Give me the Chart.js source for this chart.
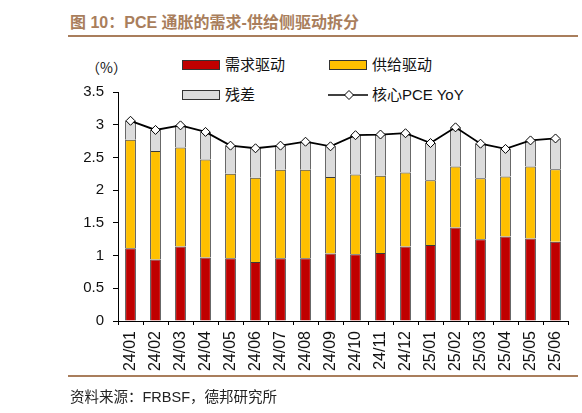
<!DOCTYPE html>
<html lang="zh-CN">
<head>
<meta charset="UTF-8">
<title>PCE 通胀的需求-供给侧驱动拆分</title>
<script src="https://cdn.jsdelivr.net/npm/chart.js"></script>
<style>
    body { margin: 0; background: #fff; font-family: 'Liberation Sans', 'Noto Sans CJK SC', sans-serif; }
    .page { position: relative; width: 582px; height: 413px; overflow: hidden; }
    #chart { position: absolute; left: 0; top: 0; }
    .title { position: absolute; left: 70px; top: 9px; font-size: 16px; font-weight: 700; color: #a97e5c; white-space: nowrap; }
    .rule { position: absolute; left: 68px; width: 510px; height: 2px; background: #a97e5c; }
    .source { position: absolute; left: 70px; top: 385px; font-size: 14.5px; color: #222; white-space: nowrap; }
    .unit { position: absolute; left: 86px; top: 57px; font-size: 14px; color: #111; font-family: 'Noto Sans CJK SC', sans-serif; }
    .lg { position: absolute; font-size: 15px; color: #111; white-space: nowrap; line-height: 18px; }
    .box { position: absolute; width: 36px; height: 8px; border: 1px solid #333; }
</style>
</head>
<body>
<div class="page">
    <div class="title">图 10：PCE 通胀的需求-供给侧驱动拆分</div>
    <div class="rule" style="top:35px"></div>
    <div class="unit">（%）</div>

    <div class="box" style="left:182px;top:60px;background:#c00000"></div>
    <div class="lg" style="left:225px;top:56px">需求驱动</div>
    <div class="box" style="left:329px;top:60px;background:#ffc000"></div>
    <div class="lg" style="left:372px;top:56px">供给驱动</div>
    <div class="box" style="left:182px;top:90px;background:#dcdcdc"></div>
    <div class="lg" style="left:225px;top:86px">残差</div>
    <svg style="position:absolute;left:328px;top:89px" width="40" height="12">
        <line x1="0" y1="6" x2="40" y2="6" stroke="#000" stroke-width="1.6"/>
        <polygon points="21,1.5 25.5,6 21,10.5 16.5,6" fill="#fff" stroke="#000" stroke-width="1"/>
    </svg>
    <div class="lg" style="left:372px;top:86px">核心PCE YoY</div>

    <canvas id="chart" width="582" height="413"></canvas>
    <div class="rule" style="top:375px"></div>
    <div class="source">资料来源：FRBSF，德邦研究所</div>
</div>
<script>
    const months = ['24/01','24/02','24/03','24/04','24/05','24/06','24/07','24/08','24/09',
                    '24/10','24/11','24/12','25/01','25/02','25/03','25/04','25/05','25/06'];
    const demand   = [1.11,0.94,1.14,0.97,0.96,0.90,0.96,0.96,1.03,1.02,1.04,1.14,1.16,1.43,1.25,1.29,1.26,1.21];
    const supply   = [1.66,1.66,1.51,1.50,1.29,1.29,1.35,1.35,1.17,1.22,1.18,1.13,0.99,0.93,0.93,0.92,1.10,1.11];
    const residual = [0.29,0.32,0.34,0.42,0.43,0.45,0.37,0.43,0.47,0.60,0.63,0.60,0.57,0.60,0.53,0.42,0.40,0.47];
    const corePce  = [3.06,2.92,2.99,2.89,2.68,2.64,2.68,2.74,2.67,2.84,2.85,2.87,2.72,2.96,2.71,2.63,2.76,2.79];
    const yTicks   = [0, 0.5, 1, 1.5, 2, 2.5, 3, 3.5];

    const barStyle = { borderColor: '#3a3a3a', borderWidth: 1, barPercentage: 0.43, categoryPercentage: 1, order: 1 };

    new Chart(document.getElementById('chart'), {
        type: 'bar',
        data: {
            labels: months,
            datasets: [
                Object.assign({ label: '需求驱动', data: demand, backgroundColor: '#c00000' }, barStyle),
                Object.assign({ label: '供给驱动', data: supply, backgroundColor: '#ffc000' }, barStyle),
                Object.assign({ label: '残差', data: residual, backgroundColor: '#dcdcdc' }, barStyle),
                {
                    type: 'line',
                    label: '核心PCE YoY',
                    data: corePce,
                    yAxisID: 'y2',
                    borderColor: '#000',
                    borderWidth: 1.8,
                    pointStyle: 'rectRot',
                    pointRadius: 4.5,
                    pointBackgroundColor: '#fff',
                    pointBorderColor: '#000',
                    pointBorderWidth: 1,
                    tension: 0,
                    order: 0
                }
            ]
        },
        options: {
            responsive: false,
            animation: false,
            layout: { padding: { top: 92, right: 14, left: 0, bottom: 0 } },
            plugins: { legend: { display: false }, tooltip: { enabled: false } },
            scales: {
                x: {
                    stacked: true,
                    grid: { drawOnChartArea: false, tickLength: 4, color: '#000' },
                    border: { color: '#000', width: 1 },
                    ticks: {
                        color: '#111', minRotation: 90, maxRotation: 90, padding: 6,
                        font: { family: 'Liberation Sans', size: 16 }
                    },
                    afterFit: s => { s.height = 92; }
                },
                y: {
                    stacked: true,
                    min: 0, max: 3.5,
                    afterBuildTicks: s => { s.ticks = yTicks.map(v => ({ value: v })); },
                    grid: { drawOnChartArea: false, tickLength: 5, color: '#000' },
                    border: { color: '#000', width: 1 },
                    ticks: {
                        color: '#111', padding: 9,
                        font: { family: 'Liberation Sans', size: 15 },
                        callback: v => String(v)
                    },
                    afterFit: s => { s.width = 118; }
                },
                y2: { display: false, min: 0, max: 3.5 }
            }
        }
    });
</script>
</body>
</html>
